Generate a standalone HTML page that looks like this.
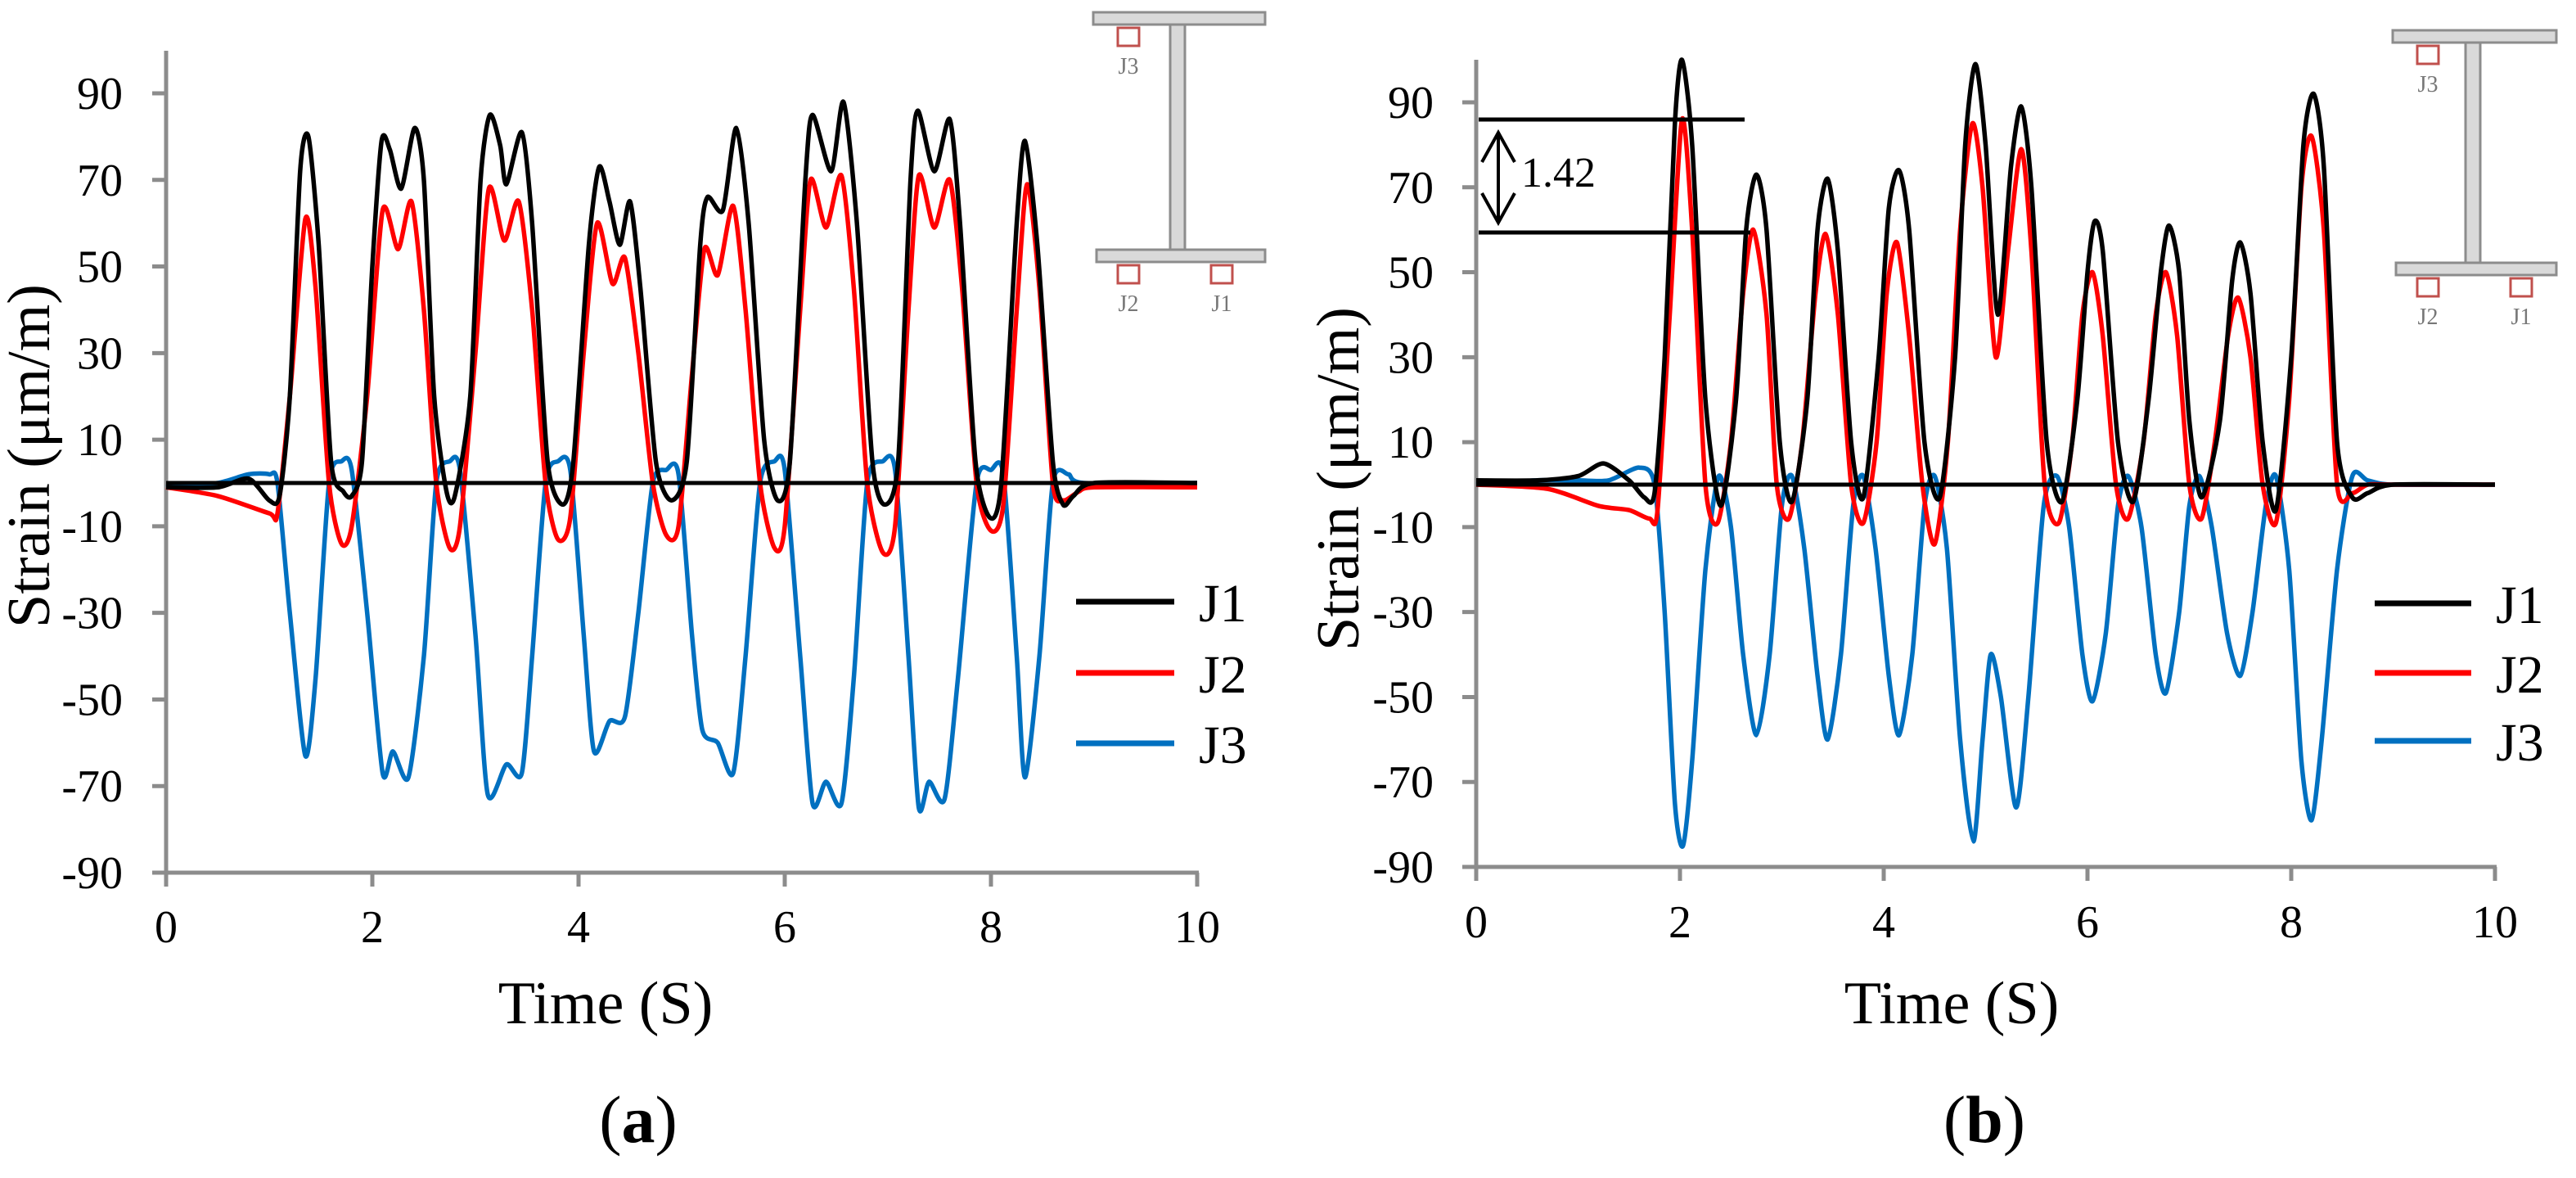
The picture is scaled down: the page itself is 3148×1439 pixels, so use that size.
<!DOCTYPE html>
<html><head><meta charset="utf-8">
<style>
html,body{margin:0;padding:0;background:#fff;}
svg{display:block;}
svg text{font-family:"Liberation Serif","Times New Roman",serif;}
</style></head>
<body>
<svg id="fig" width="3148" height="1439" viewBox="0 0 3148 1439" xmlns="http://www.w3.org/2000/svg" font-family="Liberation Serif, serif">
<g id="chartA"></g>
<g id="chartB"></g>
</svg>
<script>
// ---------- data: chart (a) ----------
const aJ1T=[0,0.5,0.8,1.0,1.1,1.2,1.3,1.38,1.48,1.6,1.72,1.8,1.9,2.0,2.09,2.17,2.28,2.41,2.5,2.6,2.72,2.8,2.95,3.05,3.14,3.24,3.3,3.45,3.55,3.7,3.85,3.95,4.1,4.2,4.3,4.4,4.5,4.6,4.75,4.9,5.05,5.18,5.25,5.4,5.53,5.65,5.8,5.93,6.05,6.2,6.27,6.45,6.57,6.7,6.85,6.97,7.1,7.22,7.29,7.45,7.6,7.7,7.85,7.99,8.1,8.25,8.33,8.45,8.6,8.7,8.8,9,10];
const aJ1V=[-1,-1,1,-4,-3,20,72,80,55,5,-2,-3,5,50,79,77,68,82,70,20,-2,-3,20,70,85,78,69,81,60,5,-5,5,55,73,65,55,65,45,5,-4,5,55,66,63,82,60,10,-4,5,70,85,72,88,60,5,-5,5,70,86,72,84,60,5,-8,0,60,79,55,5,-5,-3,0,0];
const aJ2T=[0,0.5,1.0,1.08,1.2,1.35,1.45,1.58,1.7,1.8,1.95,2.1,2.25,2.38,2.5,2.62,2.75,2.85,3.0,3.13,3.28,3.42,3.55,3.68,3.8,3.92,4.05,4.18,4.33,4.45,4.58,4.72,4.85,4.97,5.1,5.22,5.35,5.5,5.62,5.76,5.9,6.0,6.15,6.25,6.4,6.55,6.67,6.8,6.95,7.07,7.2,7.3,7.45,7.6,7.72,7.86,8.0,8.12,8.25,8.35,8.47,8.6,8.7,8.85,9,10];
const aJ2V=[-1,-3,-7,-7,20,61,45,0,-14,-10,20,63,54,65,40,0,-15,-10,30,68,56,65,40,0,-13,-8,30,60,46,52,30,0,-12,-10,25,54,48,64,40,0,-15,-10,40,70,59,71,45,0,-16,-10,40,71,59,70,45,0,-11,-5,40,69,45,0,-4,-2,-1,-1];
const aJ3T=[0,0.5,0.8,1.0,1.08,1.2,1.35,1.45,1.58,1.7,1.8,1.95,2.1,2.2,2.35,2.5,2.62,2.75,2.85,3.0,3.12,3.3,3.45,3.55,3.68,3.8,3.92,4.05,4.15,4.3,4.45,4.58,4.72,4.85,4.97,5.1,5.2,5.35,5.5,5.62,5.76,5.9,6.0,6.15,6.27,6.4,6.55,6.67,6.8,6.95,7.07,7.2,7.3,7.4,7.55,7.68,7.86,8.0,8.12,8.25,8.33,8.47,8.6,8.75,8.9,10];
const aJ3V=[-1,0,2,2,0,-30,-63,-45,0,5,3,-30,-67,-62,-68,-40,0,5,3,-35,-72,-65,-67,-40,0,5,3,-35,-62,-55,-54,-30,0,3,2,-35,-57,-60,-67,-40,0,5,3,-40,-74,-69,-74,-45,0,5,3,-40,-75,-69,-73,-45,0,3,2,-40,-68,-40,0,2,0,0];
// ---------- data: chart (b) ----------
const bJ1T=[0,0.6,1.0,1.25,1.5,1.65,1.75,1.85,1.95,2.02,2.12,2.25,2.4,2.55,2.65,2.75,2.85,2.98,3.1,3.25,3.35,3.45,3.55,3.68,3.8,3.95,4.05,4.15,4.25,4.4,4.55,4.7,4.8,4.9,5.0,5.12,5.25,5.35,5.45,5.6,5.75,5.9,6.0,6.07,6.15,6.3,6.45,6.6,6.72,6.8,6.9,7.0,7.12,7.3,7.42,7.5,7.6,7.72,7.85,8.0,8.12,8.22,8.32,8.45,8.6,8.75,9,10];
const bJ1V=[1,1,2,5,1,-3,-2,30,85,100,80,20,-5,20,60,73,60,10,-4,20,60,72,55,10,-3,30,65,74,60,10,-3,30,80,99,80,40,75,89,70,10,-4,20,50,62,55,10,-4,20,50,61,50,15,-3,15,48,57,45,10,-6,30,80,92,75,10,-3,-2,0,0];
const bJ2T=[0,0.7,1.2,1.5,1.7,1.78,1.9,2.02,2.12,2.25,2.37,2.5,2.62,2.72,2.85,2.95,3.07,3.2,3.33,3.43,3.55,3.68,3.8,3.93,4.03,4.13,4.25,4.38,4.5,4.63,4.75,4.87,4.97,5.1,5.22,5.35,5.45,5.58,5.72,5.85,5.95,6.05,6.15,6.28,6.4,6.55,6.67,6.77,6.88,7.0,7.12,7.25,7.38,7.48,7.6,7.72,7.85,7.98,8.1,8.2,8.32,8.45,8.6,8.75,9,10];
const bJ2V=[0,-1,-5,-6,-8,-6,40,86,60,0,-9,10,45,60,40,0,-8,10,45,59,40,0,-9,10,45,57,35,0,-14,10,60,85,70,30,55,79,55,0,-9,10,40,50,35,0,-8,10,40,50,35,0,-8,10,35,44,30,0,-9,20,70,82,60,0,-2,0,0,0];
const bJ3T=[0,0.6,1.0,1.3,1.6,1.75,1.85,1.95,2.03,2.12,2.25,2.38,2.5,2.62,2.75,2.88,3.0,3.1,3.22,3.35,3.45,3.58,3.7,3.8,3.92,4.05,4.15,4.28,4.4,4.5,4.62,4.75,4.88,4.97,5.05,5.15,5.3,5.42,5.57,5.7,5.82,5.95,6.05,6.18,6.3,6.4,6.53,6.67,6.77,6.9,7.0,7.1,7.22,7.37,7.5,7.62,7.75,7.85,7.98,8.1,8.2,8.3,8.45,8.6,8.75,9,10];
const bJ3V=[0,1,1,1,4,0,-30,-75,-85,-65,-20,2,-10,-40,-59,-40,-5,2,-15,-45,-60,-40,-5,2,-15,-45,-59,-40,-5,2,-15,-60,-84,-60,-40,-50,-76,-50,-5,2,-10,-40,-51,-35,-5,2,-10,-40,-49,-30,-5,2,-10,-35,-45,-30,-5,2,-20,-65,-79,-60,-20,2,1,0,0];
// ---------- axes ----------
const yTicks=[90,70,50,30,10,-10,-30,-50,-70,-90];
const xTicks=[0,2,4,6,8,10];
const seriesNames=["J1","J2","J3"];
const seriesColors=["#000000","#ff0000","#0070c0"];

const NS="http://www.w3.org/2000/svg";
const FF="Liberation Serif, Times New Roman, serif";
function mk(tag,attrs,parent,txt){const e=document.createElementNS(NS,tag);for(const k in attrs)e.setAttribute(k,attrs[k]);if(tag==="text")e.setAttribute("font-family",FF);if(txt!==undefined)e.textContent=txt;parent.appendChild(e);return e;}

function smoothPath(pts){
  let d="M"+pts[0][0].toFixed(1)+","+pts[0][1].toFixed(1);
  for(let i=0;i<pts.length-1;i++){
    const p0=pts[Math.max(0,i-1)],p1=pts[i],p2=pts[i+1],p3=pts[Math.min(pts.length-1,i+2)];
    const c1x=p1[0]+(p2[0]-p0[0])/8,c1y=p1[1]+(p2[1]-p0[1])/8;
    const c2x=p2[0]-(p3[0]-p1[0])/8,c2y=p2[1]-(p3[1]-p1[1])/8;
    d+=" C"+c1x.toFixed(1)+","+c1y.toFixed(1)+" "+c2x.toFixed(1)+","+c2y.toFixed(1)+" "+p2[0].toFixed(1)+","+p2[1].toFixed(1);
  }
  return d;
}

function drawChart(g,cfg,series){
  const X=t=>cfg.x0+(cfg.x10-cfg.x0)*t/10;
  const Y=v=>cfg.y90+(cfg.yn90-cfg.y90)*(90-v)/180;
  const ax=mk("line",{x1:X(0),y1:cfg.top,x2:X(0),y2:Y(-90)+2,stroke:"#8c8c8c","stroke-width":5},g);
  
  
  const bx=mk("line",{x1:X(0)-2,y1:Y(-90),x2:X(10)+2,y2:Y(-90),stroke:"#8c8c8c","stroke-width":5},g);
  
  
  yTicks.forEach(v=>{
    const tk=mk("line",{x1:X(0)-17,y1:Y(v),x2:X(0),y2:Y(v),stroke:"#8c8c8c","stroke-width":5},g);
    
    
    const lb=mk("text",{x:cfg.ylabX,y:Y(v)+19,"text-anchor":"end","font-size":56,fill:"#000"},g,String(v));
    
    
  });
  xTicks.forEach(v=>{
    const tk=mk("line",{x1:X(v),y1:Y(-90),x2:X(v),y2:Y(-90)+17,stroke:"#8c8c8c","stroke-width":5},g);
    
    
    const lb=mk("text",{x:X(v),y:cfg.xlabY,"text-anchor":"middle","font-size":56,fill:"#000"},g,String(v));
    
    
  });
  [2,1,0].forEach(i=>{
    const s=series[i];
    const pts=s[0].map((t,k)=>[X(t),Y(s[1][k])]);
    const p=mk("path",{d:smoothPath(pts),fill:"none",stroke:seriesColors[i],"stroke-width":5.5,"stroke-linejoin":"round"},g);
    
    
  });
  const z=mk("line",{x1:X(0),y1:Y(0),x2:X(cfg.zeroEnd),y2:Y(0),stroke:"#000","stroke-width":5},g);
  
  
  const yt=mk("text",{x:0,y:0,"text-anchor":"middle","font-size":74,fill:"#000",transform:"translate("+cfg.ytX+","+cfg.ytY+") rotate(-90)"},g,"Strain (μm/m)");
  
  
  const xt=mk("text",{x:cfg.xtX,y:cfg.xtY,"text-anchor":"middle","font-size":74,fill:"#000"},g,"Time (S)");
  
  
  const pl=mk("text",{x:cfg.xtX+40,y:cfg.panelY,"text-anchor":"middle","font-size":82,fill:"#000"},g);
  
  
  mk("tspan",{},pl,"(");
  mk("tspan",{"font-weight":"bold"},pl,cfg.panel);
  mk("tspan",{},pl,")");
  cfg.legY.forEach((ly,i)=>{
    const ln=mk("line",{x1:cfg.legX1,y1:ly,x2:cfg.legX2,y2:ly,stroke:seriesColors[i],"stroke-width":7},g);
    
    
    const lt=mk("text",{x:cfg.legX2+30,y:ly+24,"font-size":66,fill:"#000"},g,seriesNames[i]);
    
    
  });
  const b=cfg.beam;
  const ib=mk("g",{},g);
  
  
  mk("rect",{x:b.x,y:b.y,width:b.w,height:15,fill:"#d9d9d9",stroke:"#8c8c8c","stroke-width":3},ib);
  mk("rect",{x:b.webX,y:b.y+15,width:18,height:b.by-b.y-15,fill:"#d9d9d9",stroke:"#8c8c8c","stroke-width":3},ib);
  mk("rect",{x:b.x+4,y:b.by,width:b.w-4,height:15,fill:"#d9d9d9",stroke:"#8c8c8c","stroke-width":3},ib);
  const sq=[[b.x+30,b.y+19,"J3"],[b.x+30,b.by+19,"J2"],[b.x+144,b.by+19,"J1"]];
  sq.forEach(s=>{
    const r=mk("rect",{x:s[0],y:s[1],width:26,height:22,fill:"#fff",stroke:"#c0504d","stroke-width":3},ib);
    
    
    const t=mk("text",{x:s[0]+13,y:s[1]+56,"text-anchor":"middle","font-size":28,fill:"#777"},ib,s[2]);
    
    
  });
}

drawChart(document.getElementById("chartA"),{
  x0:203,x10:1463,y90:114,yn90:1066,top:62,ylabX:150,xlabY:1151,zeroEnd:10,
  ytX:60,ytY:557,xtX:740,xtY:1250,panel:"a",panelY:1395,
  legX1:1315,legX2:1435,legY:[735,822,908],
  beam:{x:1336,y:15,w:210,webX:1430,by:305}
},[[aJ1T,aJ1V],[aJ2T,aJ2V],[aJ3T,aJ3V]]);

drawChart(document.getElementById("chartB"),{
  x0:1804,x10:3049,y90:125,yn90:1059,top:73,ylabX:1752,xlabY:1145,zeroEnd:9.9,
  ytX:1660,ytY:585,xtX:2385,xtY:1250,panel:"b",panelY:1395,
  legX1:2902,legX2:3020,legY:[737,822,905],
  beam:{x:2924,y:37,w:200,webX:3013,by:321}
},[[bJ1T,bJ1V],[bJ2T,bJ2V],[bJ3T,bJ3V]]);

const gb=document.getElementById("chartB");
const ann=mk("g",{},gb);


mk("line",{x1:1807,y1:146,x2:2132,y2:146,stroke:"#000","stroke-width":5},ann);
mk("line",{x1:1807,y1:284,x2:2139,y2:284,stroke:"#000","stroke-width":5},ann);
mk("line",{x1:1831,y1:162,x2:1831,y2:272,stroke:"#000","stroke-width":4},ann);
mk("polyline",{points:"1811,198 1831,162 1851,198",fill:"none",stroke:"#000","stroke-width":4},ann);
mk("polyline",{points:"1811,236 1831,272 1851,236",fill:"none",stroke:"#000","stroke-width":4},ann);
const at=mk("text",{x:1859,y:228,"font-size":52,fill:"#000"},ann,"1.42");


</script>
</body></html>
